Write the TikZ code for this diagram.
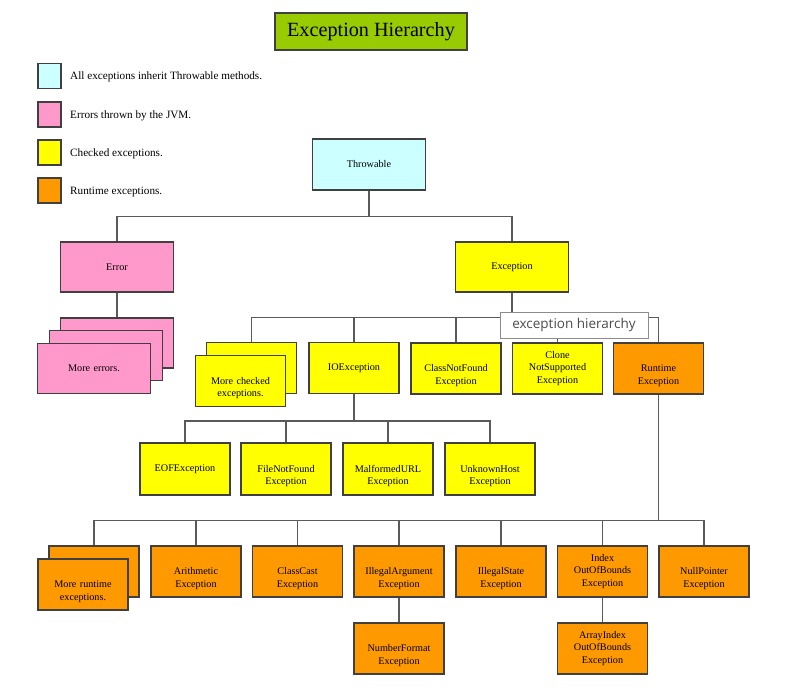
\documentclass[tikz,border=0pt]{standalone}
\usepackage{fontspec}
\setmainfont{Liberation Serif}
\newfontfamily\tipfont{Open Sans}
\usetikzlibrary{positioning}
\definecolor{thrcol}{HTML}{CCFFFF}
\definecolor{errcol}{HTML}{FF99CC}
\definecolor{chkcol}{HTML}{FFFF00}
\definecolor{runcol}{HTML}{FF9900}
\definecolor{titcol}{HTML}{99CC00}
\definecolor{edgecol}{HTML}{404040}
\definecolor{linecol}{HTML}{5A5A5A}
\newcommand\dropline{\strut\\}
\begin{document}
\begin{tikzpicture}[x=1pt,y=-1pt,font=\fontsize{10.2}{12.5}\selectfont,box/.style={draw=edgecol,line width=1.1pt,align=center,minimum width=90pt,minimum height=51pt,inner sep=1pt,text width=88pt},wide/.style={box,minimum width=113pt,text width=108pt},legend/.style={draw=edgecol,line width=1.1pt,minimum width=23pt,minimum height=25pt,inner sep=0pt},note/.style={anchor=west,font=\fontsize{11.2}{13}\selectfont,inner sep=0pt},link/.style={draw=linecol,line width=1.5pt}]
\useasboundingbox (0,0) rectangle (808,694);
\node[draw=edgecol,line width=1.1pt,fill=titcol,minimum width=192pt,minimum height=37pt,font=\fontsize{20.2}{23}\selectfont] (title) at (371,31.5){Exception Hierarchy};
% legend
\node[legend,fill=thrcol] (lthr) at (49.5,76){}; \node[note] (tthr) at (70,77){All exceptions inherit Throwable methods.};
\node[legend,fill=errcol] (lerr) at (49.5,114.5){}; \node[note] (terr) at (70,115.5){Errors thrown by the JVM.};
\node[legend,fill=chkcol] (lchk) at (49.5,152.5){}; \node[note] (tchk) at (70,153.5){Checked exceptions.};
\node[legend,fill=runcol] (lrun) at (49.5,190.5){}; \node[note] (trun) at (70,191.5){Runtime exceptions.};
% top levels
\node[wide,fill=thrcol] (throw) at (369,164.5){Throwable};
\node[wide,fill=errcol,minimum height=50pt] (err) at (117,267){Error};
\node[wide,fill=errcol,minimum height=50pt] (moreerr3) at (117,343){};
\node[wide,fill=errcol,minimum height=50pt] (moreerr2) at (106,355.5){};
\node[wide,fill=errcol,minimum height=50pt] (moreerr1) at (94,368.5){More errors.};
\node[wide,fill=chkcol,minimum height=50pt] (exc) at (512,267){Exception};
% checked exceptions
\node[box,fill=chkcol] (morechk2) at (251.5,368){};
\node[box,fill=chkcol] (morechk1) at (240.5,381){\dropline More checked\\exceptions.};
\node[box,fill=chkcol] (io) at (354,368){IOException};
\node[box,fill=chkcol] (cnf) at (456,368.5){\dropline ClassNotFound\\Exception};
\node[box,fill=chkcol] (clone) at (557.5,368.5){Clone\\NotSupported\\Exception};
\node[box,fill=runcol] (rt) at (658.5,368.5){\dropline Runtime\\Exception};
\node[box,fill=chkcol,minimum height=52pt] (eof) at (185,469){EOFException};
\node[box,fill=chkcol,minimum height=52pt] (fnf) at (286,469){\dropline FileNotFound\\Exception};
\node[box,fill=chkcol,minimum height=52pt] (mal) at (388,469){\dropline MalformedURL\\Exception};
\node[box,fill=chkcol,minimum height=52pt] (unk) at (490,469){\dropline UnknownHost\\Exception};
% runtime exceptions
\node[box,fill=runcol] (morert2) at (94,571.5){};
\node[box,fill=runcol] (morert1) at (83,584.5){\dropline More runtime\\exceptions.};
\node[box,fill=runcol] (arith) at (196,571.5){\dropline Arithmetic\\Exception};
\node[box,fill=runcol] (cc) at (297.5,571.5){\dropline ClassCast\\Exception};
\node[box,fill=runcol] (ia) at (399,571.5){\dropline IllegalArgument\\Exception};
\node[box,fill=runcol] (is) at (501,571.5){\dropline IllegalState\\Exception};
\node[box,fill=runcol] (ioob) at (602.5,571.5){Index\\OutOfBounds\\Exception};
\node[box,fill=runcol] (np) at (704,571.5){\dropline NullPointer\\Exception};
\node[box,fill=runcol] (nf) at (399,648.5){\dropline NumberFormat\\Exception};
\node[box,fill=runcol] (aioob) at (602.5,648.5){ArrayIndex\\OutOfBounds\\Exception};
% connectors
\draw[link] (throw.south) -- ++(0,26) -| (err.north); \draw[link] (throw.south) -- ++(0,26) -| (exc.north); \draw[link] (err.south) -- (moreerr3.north);
\draw[link] (exc.south) -- ++(0,25) -| (morechk2.north); \draw[link] (exc.south) -- ++(0,25) -| (io.north); \draw[link] (exc.south) -- ++(0,25) -| (cnf.north); \draw[link] (exc.south) -- ++(0,25) -| (clone.north); \draw[link] (exc.south) -- ++(0,25) -| (rt.north);
\draw[link] (io.south) -- ++(0,27) -| (eof.north); \draw[link] (io.south) -- ++(0,27) -| (fnf.north); \draw[link] (io.south) -- ++(0,27) -| (mal.north); \draw[link] (io.south) -- ++(0,27) -| (unk.north);
\draw[link] (rt.south) -- ++(0,126) -| (morert2.north); \draw[link] (rt.south) -- ++(0,126) -| (arith.north); \draw[link] (rt.south) -- ++(0,126) -| (cc.north); \draw[link] (rt.south) -- ++(0,126) -| (ia.north); \draw[link] (rt.south) -- ++(0,126) -| (is.north); \draw[link] (rt.south) -- ++(0,126) -| (ioob.north); \draw[link] (rt.south) -- ++(0,126) -| (np.north);
\draw[link] (ia.south) -- (nf.north); \draw[link] (ioob.south) -- (aioob.north);
% tooltip
\node[draw=black!45,fill=white,line width=0.8pt,minimum width=148pt,minimum height=26pt,font=\tipfont\fontsize{13.5}{15}\selectfont,text=black!70,inner sep=2pt] (tip) at (574,325){exception hierarchy};
\end{tikzpicture}
\end{document}
